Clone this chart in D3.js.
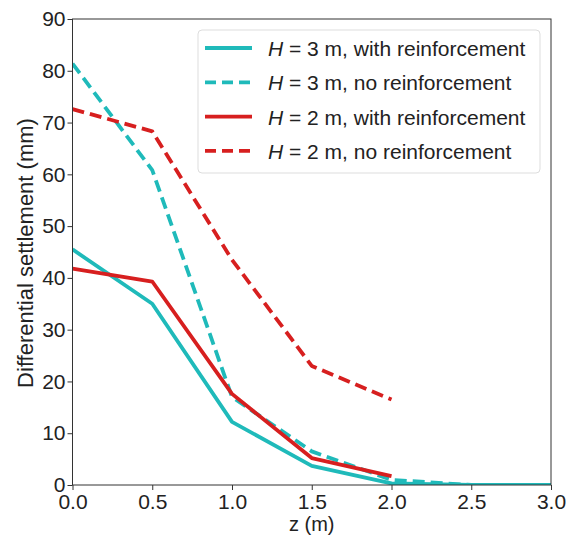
<!DOCTYPE html>
<html><head><meta charset="utf-8">
<script src="https://cdn.jsdelivr.net/npm/d3@7"></script>
<style>body{margin:0;background:#fff;} svg{display:block;}</style>
</head><body>
<script>
const zValues = [0, 0.5, 1.0, 1.5, 2.0, 2.5, 3.0];
const h3With = [45.5, 35.0, 12.2, 3.7, 0.3, 0, 0];
const h3No = [81.4, 60.8, 17.0, 6.5, 1.0, 0, 0];
const h2With = [41.8, 39.3, 17.6, 5.2, 1.7];
const h2No = [72.6, 68.3, 43.5, 23.0, 16.5];
const xTicks = [0, 0.5, 1.0, 1.5, 2.0, 2.5, 3.0];
const yTicks = [0, 10, 20, 30, 40, 50, 60, 70, 80, 90];
const labels = ["3 m, with reinforcement", "3 m, no reinforcement", "2 m, with reinforcement", "2 m, no reinforcement"];

const W = 566, H = 535;
const m = {l: 72.5, r: 551, t: 19, b: 485};
const cyan = "#1fbaba", red = "#d71f1f";
const font = "'Liberation Sans', Arial, sans-serif";
const series = [
  {vals: h3With, color: cyan, dash: null},
  {vals: h3No, color: cyan, dash: "12,6"},
  {vals: h2With, color: red, dash: null},
  {vals: h2No, color: red, dash: "12,6"}
];

const svg = d3.select("body").append("svg").attr("width", W).attr("height", H)
  .style("font-family", font);
const x = d3.scaleLinear().domain([0, 3]).range([m.l, m.r]);
const y = d3.scaleLinear().domain([0, 90]).range([m.b, m.t]);

svg.append("defs").append("clipPath").attr("id", "c").append("rect")
  .attr("x", m.l).attr("y", m.t).attr("width", m.r - m.l).attr("height", m.b - m.t);

const line = d3.line().x((d, i) => x(zValues[i])).y(d => y(d));
const g = svg.append("g").attr("clip-path", "url(#c)");
series.forEach(s => {
  g.append("path").datum(s.vals).attr("d", line).attr("fill", "none")
    .attr("stroke", s.color).attr("stroke-width", 3.8)
    .attr("stroke-dasharray", s.dash).attr("stroke-linejoin", "round");
});

svg.append("rect").attr("x", m.l).attr("y", m.t).attr("width", m.r - m.l).attr("height", m.b - m.t)
  .attr("fill", "none").attr("stroke", "#333").attr("stroke-width", 1);

const xa = svg.append("g").attr("transform", `translate(0,${m.b})`)
  .call(d3.axisBottom(x).tickValues(xTicks).tickFormat(d3.format(".1f")).tickSize(5).tickPadding(4));
const ya = svg.append("g").attr("transform", `translate(${m.l},0)`)
  .call(d3.axisLeft(y).tickValues(yTicks).tickSize(5).tickPadding(2));
[xa, ya].forEach(a => {
  a.select(".domain").remove();
  a.selectAll("line").attr("stroke", "#333");
  a.selectAll("text").attr("font-size", 21).attr("fill", "#222").style("font-family", font);
});

svg.append("text").attr("x", (m.l + m.r) / 2).attr("y", 531).attr("text-anchor", "middle")
  .attr("font-size", 20).attr("fill", "#222").text("z (m)");
svg.append("text").attr("transform", `translate(33,253) rotate(-90)`)
  .attr("text-anchor", "middle").attr("font-size", 22).attr("fill", "#222").text("Differential settlement (mm)");

const lg = svg.append("g");
lg.append("rect").attr("x", 198).attr("y", 30).attr("width", 342).attr("height", 143).attr("rx", 4)
  .attr("fill", "#fff").attr("fill-opacity", 0.85).attr("stroke", "#ddd").attr("stroke-width", 1);
series.forEach((s, i) => {
  const yy = 48 + i * 34.3;
  lg.append("line").attr("x1", 205).attr("x2", 252).attr("y1", yy).attr("y2", yy)
    .attr("stroke", s.color).attr("stroke-width", 3.8).attr("stroke-dasharray", s.dash ? "11,6" : null);
  const t = lg.append("text").attr("x", 268).attr("y", yy + 8).attr("font-size", 21).attr("fill", "#222");
  t.append("tspan").attr("font-style", "italic").text("H");
  t.append("tspan").text(" = " + labels[i]);
});
</script>
</body></html>
